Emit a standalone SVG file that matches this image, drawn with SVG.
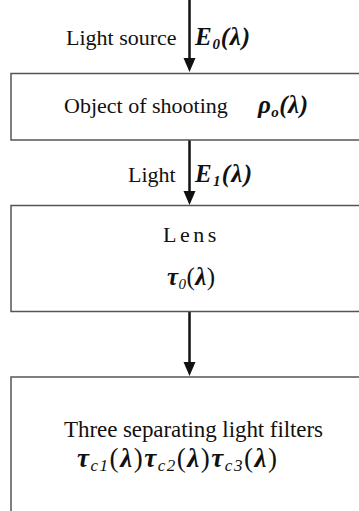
<svg xmlns="http://www.w3.org/2000/svg" width="359" height="511" viewBox="0 0 359 511">
<style>
.box{fill:none;stroke:#555;stroke-width:1.5}
.t{font-family:"Liberation Serif","Times New Roman",serif;font-size:22px;fill:#111}
.m{font-family:"Liberation Serif","Times New Roman",serif;font-size:25px;font-weight:bold;font-style:italic;fill:#111}
.sub{font-size:15px}
.r{font-weight:normal;font-style:normal}
.si{font-weight:normal;font-style:italic;font-size:15px}
.big{font-size:27px}
.big .si{font-size:17px}
.conn{stroke:#111;stroke-width:2.5}
</style>
<g id="connectors">
<line class="conn" x1="189.5" y1="0" x2="189.5" y2="58"/>
<path d="M183.5,58 L195.5,58 L189.5,72 Z" fill="#111"/>
<line class="conn" x1="189.5" y1="140" x2="189.5" y2="191"/>
<path d="M183.5,191 L195.5,191 L189.5,205 Z" fill="#111"/>
<line class="conn" x1="189.5" y1="312" x2="189.5" y2="362"/>
<path d="M183.5,362 L195.5,362 L189.5,376 Z" fill="#111"/>
<text class="t" x="66" y="45">Light source</text>
<text class="m" x="195" y="45" textLength="55" lengthAdjust="spacing">E<tspan class="sub" dy="4">0</tspan><tspan dy="-4">(λ)</tspan></text>
<text class="t" x="128" y="182">Light</text>
<text class="m" x="195" y="182" textLength="57" lengthAdjust="spacing">E<tspan class="sub" dy="4">1</tspan><tspan dy="-4">(λ)</tspan></text>
</g>
<g id="object">
<rect class="box" x="11" y="73.5" width="360" height="66.5"/>
<text class="t" x="64" y="113">Object of shooting</text>
<text class="m" x="258" y="113" textLength="50" lengthAdjust="spacing">ρ<tspan class="sub" dy="4">o</tspan><tspan dy="-4">(λ)</tspan></text>
</g>
<g id="lens">
<rect class="box" x="11" y="205.5" width="360" height="106"/>
<text class="t" x="163" y="242" letter-spacing="3.5">Lens</text>
<text class="m" x="167" y="285" textLength="48" lengthAdjust="spacing">τ<tspan class="si" dy="4">0</tspan><tspan class="r" dy="-4">(</tspan>λ<tspan class="r">)</tspan></text>
</g>
<g id="filters">
<path class="box" d="M11,520 V377 H371"/>
<text class="t" x="64" y="437" style="font-size:23px" textLength="259" lengthAdjust="spacing">Three separating light filters</text>
<text class="m big" x="77" y="467" textLength="200" lengthAdjust="spacing">τ<tspan class="si" dy="4">c1</tspan><tspan class="r" dy="-4">(</tspan>λ<tspan class="r">)</tspan>τ<tspan class="si" dy="4">c2</tspan><tspan class="r" dy="-4">(</tspan>λ<tspan class="r">)</tspan>τ<tspan class="si" dy="4">c3</tspan><tspan class="r" dy="-4">(</tspan>λ<tspan class="r">)</tspan></text>
</g>
</svg>
